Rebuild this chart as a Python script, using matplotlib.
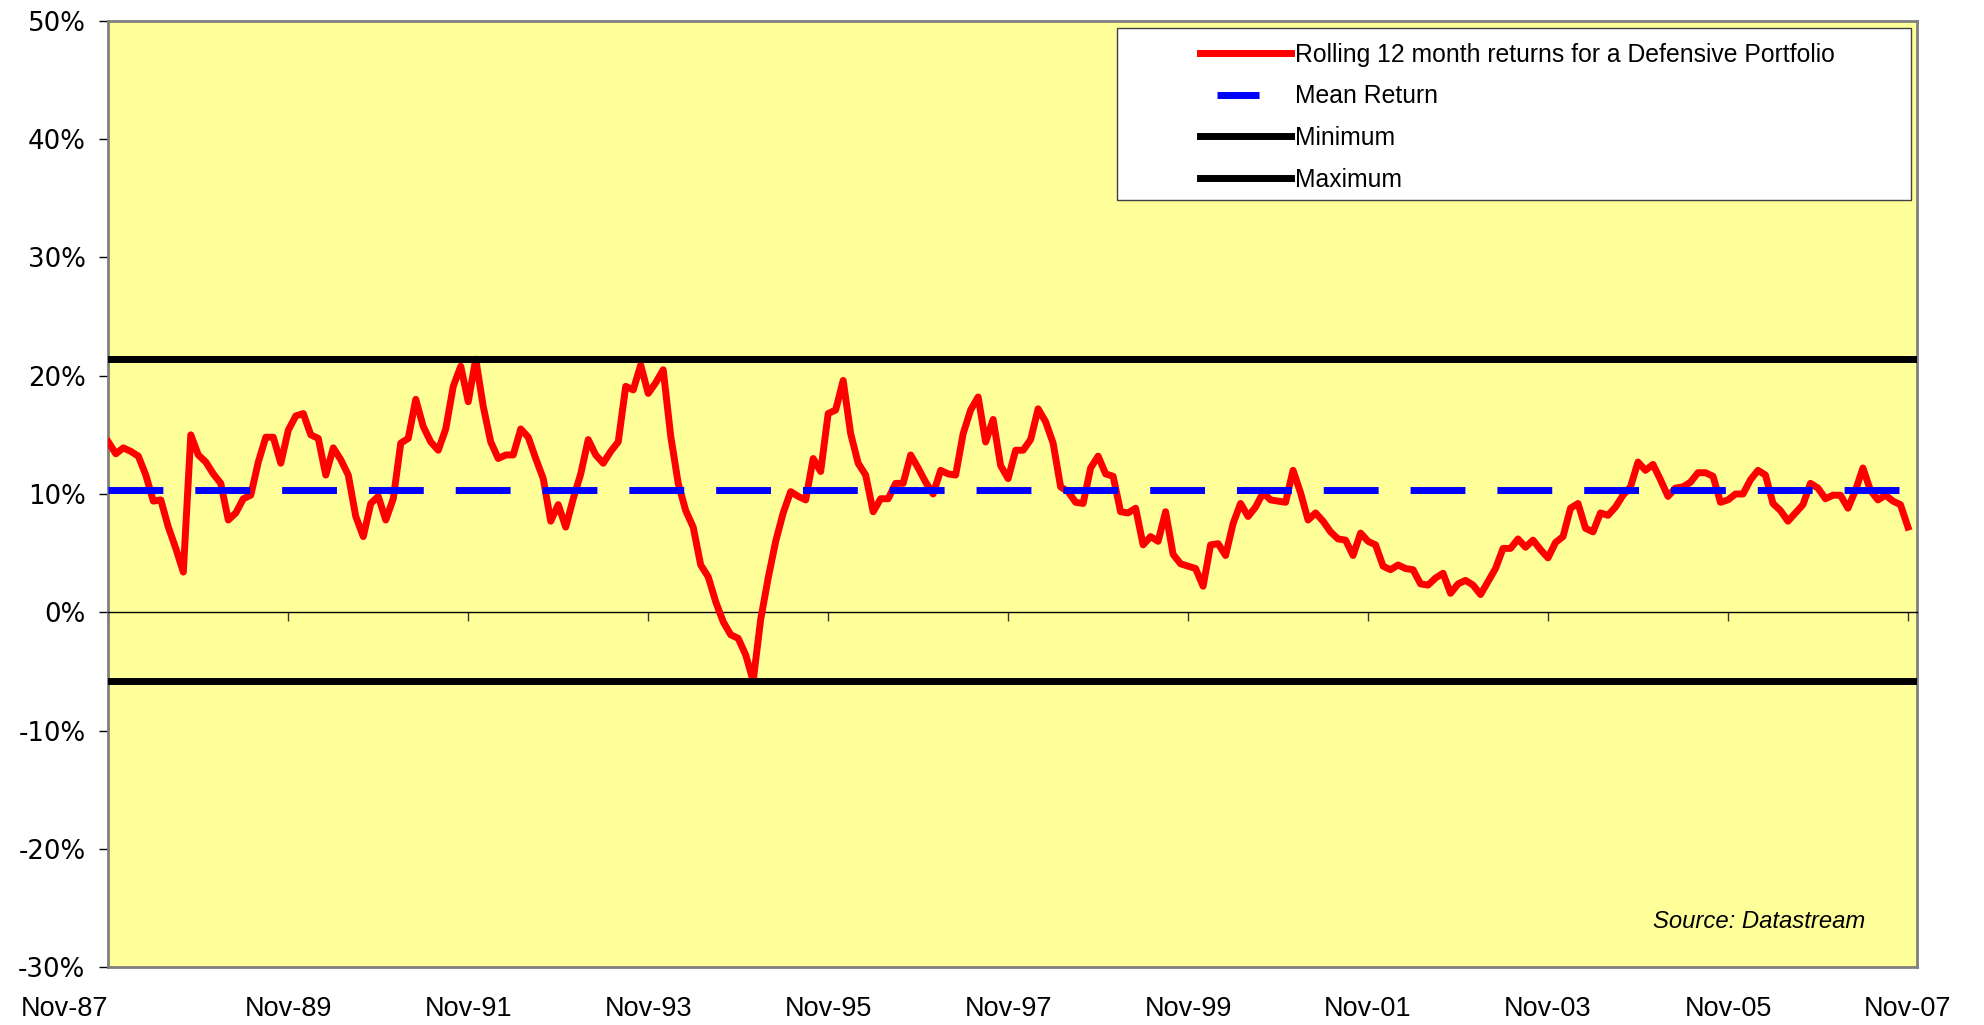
import numpy as np
import matplotlib
matplotlib.use("Agg")
import matplotlib.pyplot as plt
from matplotlib.lines import Line2D
from matplotlib.patches import Rectangle

plt.rcParams['font.family'] = ['Liberation Sans', 'DejaVu Sans']

# rolling 12 month returns (%), monthly Nov-87 .. Nov-07
returns = [
    14.4, 13.4, 13.9, 13.6, 13.2, 11.6, 9.4, 9.5, 7.2, 5.4,
    3.4, 15.0, 13.3, 12.7, 11.7, 10.9, 7.8, 8.4, 9.6, 9.9,
    12.7, 14.8, 14.8, 12.6, 15.4, 16.6, 16.8, 15.0, 14.7, 11.6,
    13.9, 12.9, 11.6, 8.1, 6.4, 9.2, 9.8, 7.8, 9.6, 14.3,
    14.7, 18.0, 15.7, 14.4, 13.7, 15.5, 19.1, 20.8, 17.8, 21.4,
    17.4, 14.4, 13.0, 13.3, 13.3, 15.5, 14.8, 13.0, 11.3, 7.7,
    9.1, 7.2, 9.6, 11.7, 14.6, 13.3, 12.6, 13.6, 14.4, 19.1,
    18.8, 20.9, 18.5, 19.4, 20.5, 14.9, 10.9, 8.6, 7.2, 4.0,
    3.0, 0.9, -0.8, -1.9, -2.2, -3.6, -5.8, -0.6, 2.9, 6.0,
    8.4, 10.2, 9.8, 9.5, 13.0, 11.9, 16.8, 17.1, 19.6, 15.1,
    12.6, 11.6, 8.5, 9.6, 9.6, 10.9, 10.9, 13.3, 12.2, 11.0,
    10.0, 12.0, 11.7, 11.6, 15.1, 17.1, 18.2, 14.4, 16.3, 12.4,
    11.3, 13.7, 13.7, 14.6, 17.2, 16.1, 14.3, 10.6, 10.2, 9.3,
    9.2, 12.2, 13.2, 11.7, 11.5, 8.5, 8.4, 8.8, 5.7, 6.4,
    6.0, 8.5, 4.9, 4.1, 3.9, 3.7, 2.2, 5.7, 5.8, 4.8,
    7.5, 9.2, 8.1, 8.9, 10.1, 9.5, 9.4, 9.3, 12.0, 10.1,
    7.8, 8.4, 7.7, 6.8, 6.2, 6.1, 4.8, 6.7, 6.0, 5.7,
    3.9, 3.6, 4.0, 3.7, 3.6, 2.4, 2.3, 2.9, 3.3, 1.6,
    2.4, 2.7, 2.3, 1.5, 2.6, 3.7, 5.4, 5.4, 6.2, 5.5,
    6.1, 5.3, 4.6, 5.9, 6.4, 8.8, 9.2, 7.1, 6.8, 8.4,
    8.2, 8.9, 9.9, 10.6, 12.7, 12.0, 12.5, 11.2, 9.8, 10.5,
    10.6, 11.0, 11.8, 11.8, 11.5, 9.3, 9.5, 10.0, 10.0, 11.2,
    12.0, 11.6, 9.2, 8.6, 7.7, 8.4, 9.1, 10.9, 10.5, 9.6,
    9.9, 9.9, 8.8, 10.3, 12.2, 10.3, 9.5, 9.9, 9.4, 9.1,
    7.2,
]
mean_return = 10.3
min_return = -5.8
max_return = 21.4

tick_labels = ['Nov-87', 'Nov-89', 'Nov-91', 'Nov-93', 'Nov-95', 'Nov-97',
               'Nov-99', 'Nov-01', 'Nov-03', 'Nov-05', 'Nov-07']
y_ticks = [-30, -20, -10, 0, 10, 20, 30, 40, 50]

legend_labels = ['Rolling 12 month returns for a Defensive Portfolio',
                 'Mean Return', 'Minimum', 'Maximum']

months = np.arange(len(returns))
tick_pos = np.arange(0, len(returns), 24)

fig = plt.figure(figsize=(19.84, 10.25), dpi=100)
ax = fig.add_axes([0.0546, 0.0564, 0.9116, 0.9233])
ax.set_facecolor('#FFFF99')

ax.plot(months, returns, color='#FF0000', lw=5, zorder=3)
ax.axhline(mean_return, color='#0000FF', lw=5, dashes=(7.9, 4.6),
           dash_capstyle='butt', zorder=4)
ax.axhline(min_return, color='black', lw=5, zorder=4)
ax.axhline(max_return, color='black', lw=5, zorder=4)

ax.set_xlim(0, 241.2)
ax.set_ylim(-30, 50)

# y axis
ax.set_yticks(y_ticks)
ax.set_yticklabels([f'{v}%' for v in y_ticks], fontsize=18.7, family='DejaVu Sans')
ax.tick_params(axis='y', direction='out', length=6.5, width=1, pad=10)

# category axis crosses at 0
ax.spines['bottom'].set_position(('data', 0))
ax.spines['bottom'].set_color('black')
ax.spines['bottom'].set_linewidth(1)
ax.set_xticks(tick_pos)
ax.tick_params(axis='x', direction='out', length=6.5, width=1, labelbottom=False,
               color='#333333')
for s in ['left', 'right', 'top']:
    ax.spines[s].set_color('#808080')
    ax.spines[s].set_linewidth(2)

sec = ax.secondary_xaxis('bottom')
sec.set_xticks(tick_pos)
sec.set_xticklabels(tick_labels, fontsize=19.5)
sec.tick_params(length=0, pad=21)
sec.spines['bottom'].set_color('#808080')
sec.spines['bottom'].set_linewidth(2)
sec.get_xticklabels()[0].set_horizontalalignment('right')

# legend box
ax.add_patch(Rectangle((0.5577, 0.8107), 0.439, 0.1817, transform=ax.transAxes,
                       facecolor='white', edgecolor='#404040', lw=1, zorder=5))
handles = [
    Line2D([], [], color='#FF0000', lw=5),
    Line2D([], [], color='#0000FF', lw=5, linestyle=(23.6, (6.05, 20.0)),
           dash_capstyle='butt'),
    Line2D([], [], color='black', lw=5),
    Line2D([], [], color='black', lw=5),
]
leg = ax.legend(handles, legend_labels, loc='upper left',
                bbox_to_anchor=(0.6036, 0.9767), frameon=False, fontsize=17.8,
                handlelength=3.7, handletextpad=0.15, labelspacing=0.71,
                borderpad=0, borderaxespad=0)
leg.set_zorder(6)

ax.text(0.913, 0.0478, 'Source: Datastream', transform=ax.transAxes,
        ha='center', va='center', fontsize=17.2, style='italic', zorder=6)

fig.savefig('out.png', dpi=100, facecolor='white')
